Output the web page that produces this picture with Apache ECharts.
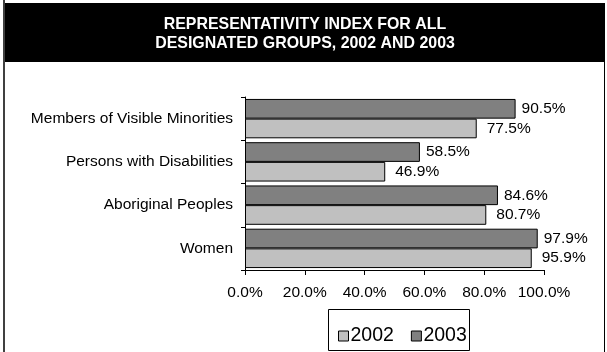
<!DOCTYPE html>
<html><head><meta charset="utf-8">
<script src="https://cdn.jsdelivr.net/npm/echarts@6/dist/echarts.min.js"></script>
<style>html,body{margin:0;padding:0;background:#fff}#c{width:607px;height:352px}</style>
</head><body><div id="c"></div>
<script>
const categories = ['Women', 'Aboriginal Peoples', 'Persons with Disabilities', 'Members of Visible Minorities'];
const values2002 = [95.9, 80.7, 46.9, 77.5];
const values2003 = [97.9, 84.6, 58.5, 90.5];
const xTicks = [0, 20, 40, 60, 80, 100];
const titleLines = ['REPRESENTATIVITY INDEX FOR ALL', 'DESIGNATED GROUPS, 2002 AND 2003'];

const font = '"Liberation Sans", Arial, sans-serif';
const chart = echarts.init(document.getElementById('c'));
const lbl = d => ({show: true, position: 'right', distance: d, color: '#000', fontFamily: font, fontSize: 15.5,
  formatter: p => p.value.toFixed(1) + '%'});
const titleText = (t, y) => ({type: 'text', x: 305, y: y, scaleX: 0.965, z: 10,
  style: {text: t, fill: '#fff', font: 'bold 16.5px ' + font, textAlign: 'center', textVerticalAlign: 'middle'}});
chart.setOption({
  animation: false,
  backgroundColor: '#fff',
  graphic: [
    {type: 'rect', z: -1, shape: {x: 4, y: 3, width: 601, height: 59}, style: {fill: '#000'}},
    titleText(titleLines[0], 24.5),
    titleText(titleLines[1], 43.8),
    {type: 'line', shape: {x1: 4, y1: 0, x2: 4, y2: 352}, style: {stroke: '#404040', lineWidth: 2}},
    {type: 'line', shape: {x1: 604.5, y1: 3, x2: 604.5, y2: 352}, style: {stroke: '#000', lineWidth: 1}},
    {type: 'rect', shape: {x: 328.5, y: 309.5, width: 141, height: 41}, style: {fill: 'none', stroke: '#000', lineWidth: 1}}
  ],
  legend: {data: ['2002', '2003'], left: 338, top: 326, padding: 0, itemGap: 17,
    itemWidth: 10, itemHeight: 10, icon: 'rect',
    itemStyle: {borderColor: '#000', borderWidth: 1},
    textStyle: {fontFamily: font, fontSize: 19.5, color: '#000', padding: [0, 0, 0, -3]}},
  grid: {left: 245, right: 63, top: 97, bottom: 82, containLabel: false},
  xAxis: {type: 'value', min: 0, max: 100, interval: 20,
    axisLine: {show: true, lineStyle: {color: '#000', width: 1}},
    axisTick: {show: true, length: 5, lineStyle: {color: '#000'}},
    splitLine: {show: false},
    axisLabel: {fontFamily: font, fontSize: 15.5, color: '#000', margin: 15,
      formatter: v => xTicks.includes(v) ? v.toFixed(1) + '%' : ''}},
  yAxis: {type: 'category', data: categories,
    axisLine: {show: true, lineStyle: {color: '#000', width: 1}},
    axisTick: {show: true, length: 4, lineStyle: {color: '#000'}},
    axisLabel: {fontFamily: font, fontSize: 15.5, color: '#000', margin: 12}},
  series: [
    {name: '2003', type: 'bar', data: values2003, barGap: '0%', barCategoryGap: '9%',
      itemStyle: {color: '#808080', borderColor: '#000', borderWidth: 1}, label: lbl(6)},
    {name: '2002', type: 'bar', data: values2002, barGap: '0%', barCategoryGap: '9%',
      itemStyle: {color: '#c0c0c0', borderColor: '#000', borderWidth: 1}, label: lbl(10)}
  ]
});
</script></body></html>
